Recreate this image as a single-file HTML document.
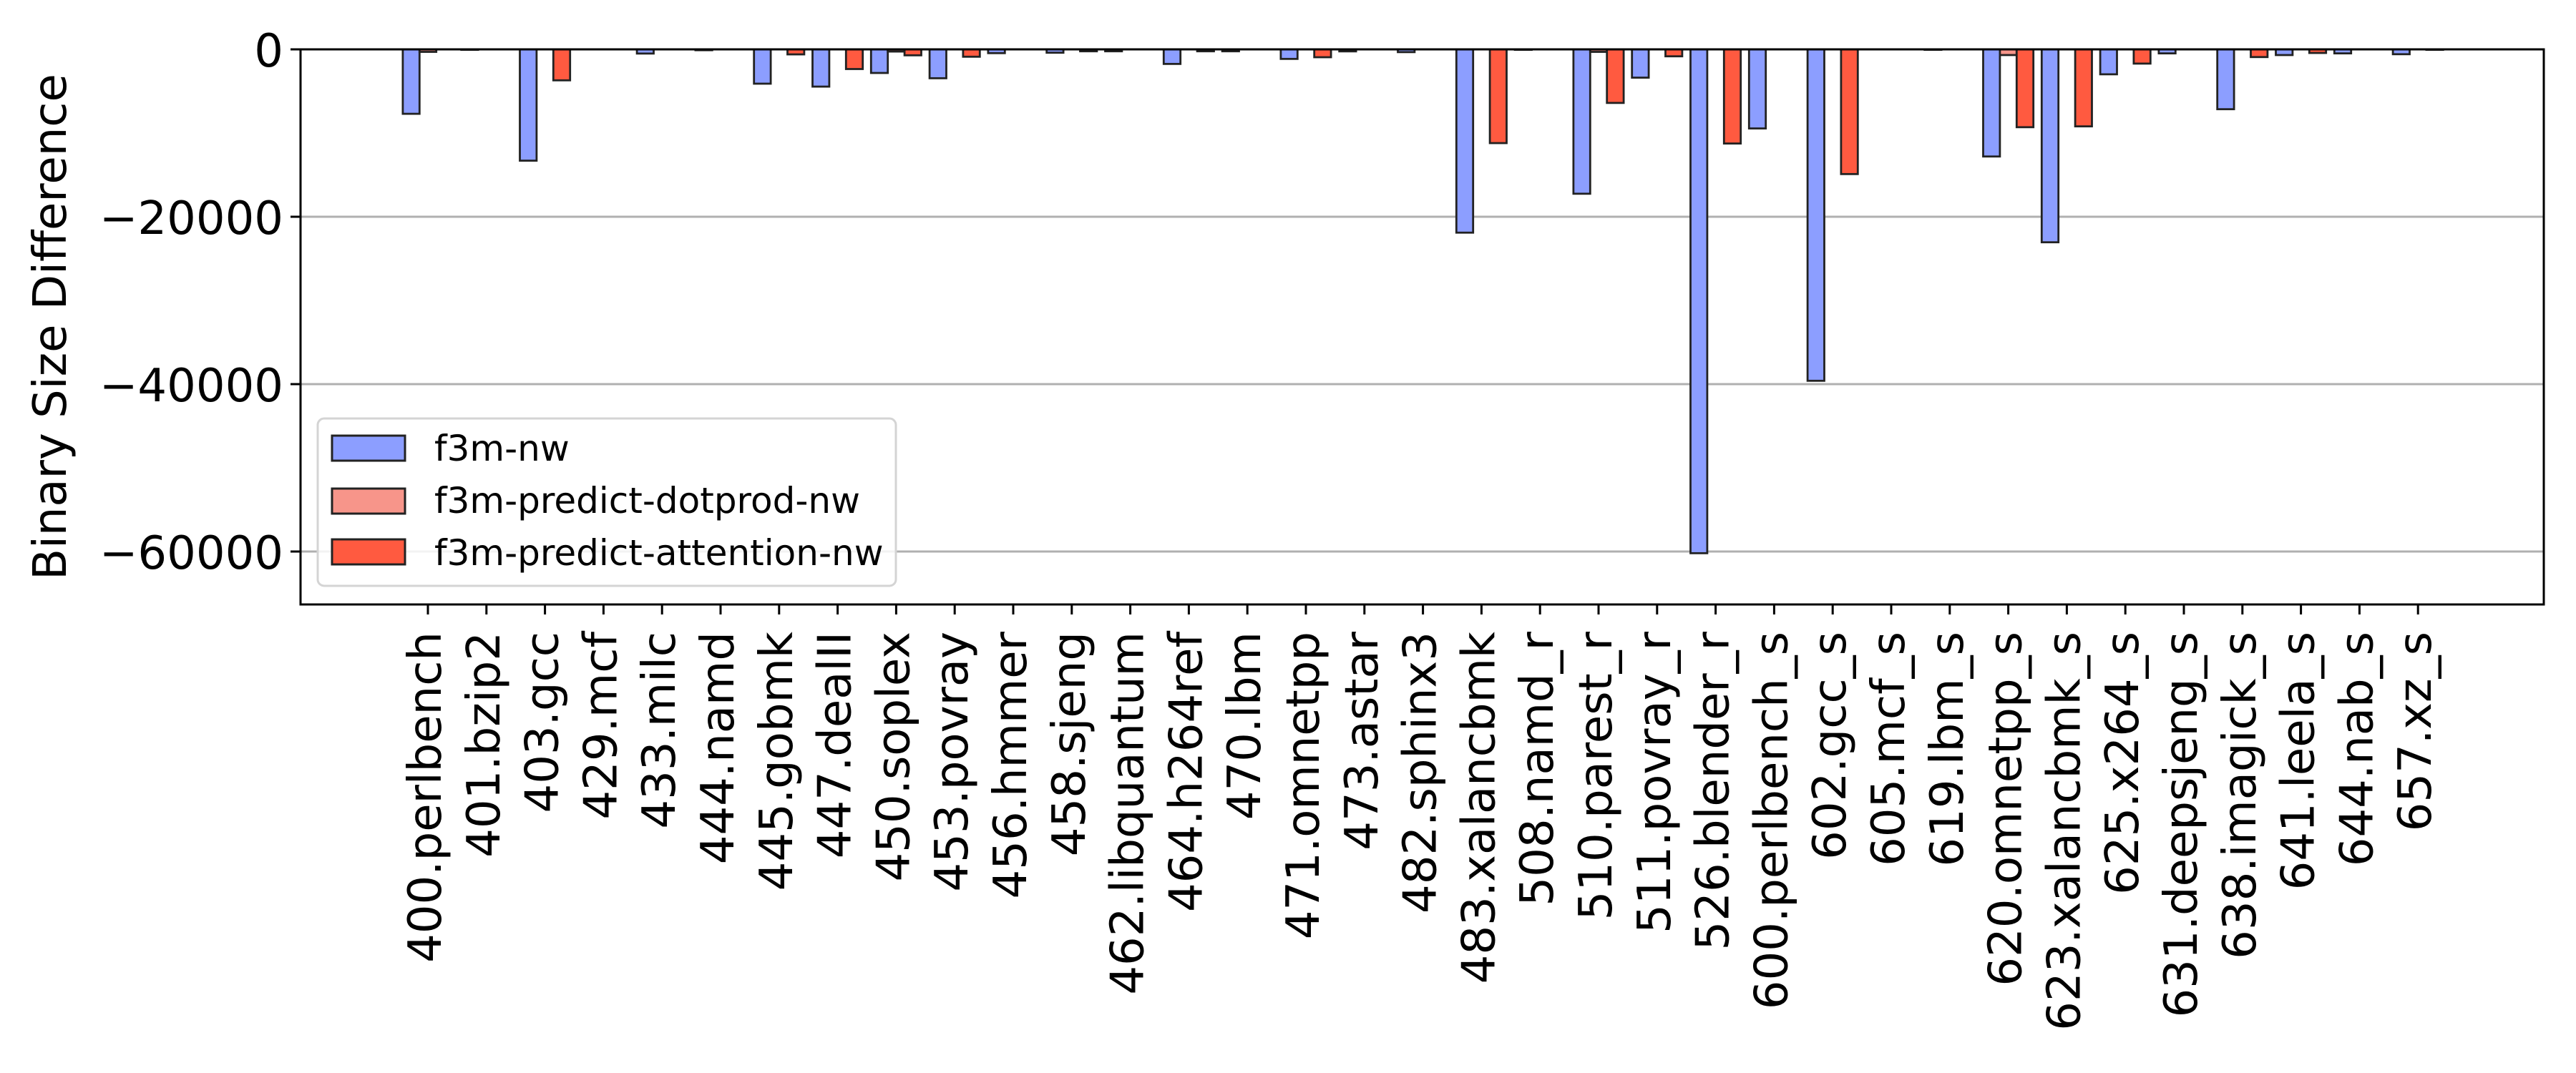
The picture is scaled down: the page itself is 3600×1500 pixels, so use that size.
<!DOCTYPE html>
<html><head><meta charset="utf-8"><style>
html,body{margin:0;padding:0;background:#fff;}
svg{display:block;font-family:"DejaVu Sans","Liberation Sans",sans-serif;}
</style></head><body>
<svg id="chart" width="3600" height="1500" viewBox="0 0 3600 1500" xmlns="http://www.w3.org/2000/svg">
<rect width="3600" height="1500" fill="#fff"/>
<g id="grid"></g>
<g id="bars"></g>
<g id="axes"></g>
<g id="legend"></g>
</svg>
<script>
const categories = ["400.perlbench","401.bzip2","403.gcc","429.mcf","433.milc","444.namd","445.gobmk","447.dealII","450.soplex","453.povray","456.hmmer","458.sjeng","462.libquantum","464.h264ref","470.lbm","471.omnetpp","473.astar","482.sphinx3","483.xalancbmk","508.namd_r","510.parest_r","511.povray_r","526.blender_r","600.perlbench_s","602.gcc_s","605.mcf_s","619.lbm_s","620.omnetpp_s","623.xalancbmk_s","625.x264_s","631.deepsjeng_s","638.imagick_s","641.leela_s","644.nab_s","657.xz_s"];
const f3mNw = [-7700,-50,-13300,0,-500,-100,-4100,-4450,-2820,-3450,-450,-400,-230,-1740,-230,-1140,-240,-330,-21900,-50,-17250,-3380,-60200,-9450,-39600,0,-50,-12800,-23050,-2980,-480,-7150,-680,-480,-580];
const f3mDotprod = [-300,0,0,0,0,0,0,0,-260,0,0,0,0,0,0,0,0,0,0,0,-300,0,0,0,0,0,0,-680,0,0,0,0,0,0,0];
const f3mAttention = [0,0,-3700,0,0,0,-600,-2350,-710,-880,0,-230,0,-230,0,-940,0,0,-11200,0,-6400,-830,-11250,0,-14900,0,0,-9300,-9200,-1700,0,-920,-430,0,-50];
const yTicks = [0,-20000,-40000,-60000];
const yTickLabels = ["0","\u221220000","\u221240000","\u221260000"];
const seriesNames = ["f3m-nw","f3m-predict-dotprod-nw","f3m-predict-attention-nw"];
const seriesColors = ["#8c9eff","#f7958a","#ff5a40"];

const NS="http://www.w3.org/2000/svg";
const L=420,R=3555,T=69,B=845;
const yMax=0,yMin=-66325;
function yScale(v){return T+(yMax-v)/(yMax-yMin)*(B-T);}
function xScale(i){return 598+i*81.8;}
const BW=23.4;
function mk(tag,attrs,parent){const e=document.createElementNS(NS,tag);for(const k in attrs)e.setAttribute(k,attrs[k]);parent.appendChild(e);return e;}

const grid=document.getElementById('grid');
yTicks.forEach((t,i)=>{
  if(t===0)return;
  const l=mk('line',{x1:L,x2:R,y1:yScale(t),y2:yScale(t),stroke:'#b0b0b0','stroke-width':3},grid);
  
  
});

const bars=document.getElementById('bars');
const series=[f3mNw,f3mDotprod,f3mAttention];
series.forEach((arr,s)=>{
  arr.forEach((v,i)=>{
    const cx=xScale(i)+(s-1)*BW;
    const y0=yScale(0),y1=yScale(v);
    const r=mk('rect',{x:cx-BW/2,y:Math.min(y0,y1),width:BW,height:Math.abs(y1-y0),fill:seriesColors[s],stroke:'#222','stroke-width':2.8},bars);
    
    
  });
});

const axes=document.getElementById('axes');
const frame=mk('rect',{x:L,y:T,width:R-L,height:B-T,fill:'none',stroke:'#000','stroke-width':3},axes);


yTicks.forEach((t,i)=>{
  const y=yScale(t);
  mk('line',{x1:L-14,x2:L,y1:y,y2:y,stroke:'#000','stroke-width':3},axes);
  const tx=mk('text',{x:396,y:y+24,'font-size':64,'text-anchor':'end',fill:'#000'},axes);
  tx.textContent=yTickLabels[i];
  
  
});
categories.forEach((c,i)=>{
  const x=xScale(i);
  mk('line',{x1:x,x2:x,y1:B,y2:B+14,stroke:'#000','stroke-width':3},axes);
  const tx=mk('text',{transform:`translate(${x+18},883) rotate(-90)`,'font-size':64,'text-anchor':'end',fill:'#000'},axes);
  tx.textContent=c;
  
  
});
const yt=mk('text',{transform:`translate(92,${(T+B)/2}) rotate(-90)`,'font-size':64,'text-anchor':'middle',fill:'#000'},axes);
yt.textContent='Binary Size Difference';



const lg=document.getElementById('legend');
const box=mk('rect',{x:444,y:585,width:808,height:234,rx:9,fill:'#fff','fill-opacity':0.85,stroke:'#d4d4d4','stroke-width':3},lg);


const rowsY=[608,682,753];
const baseY=[644,717,790];
seriesNames.forEach((n,s)=>{
  const p=mk('rect',{x:464,y:rowsY[s]+1,width:102,height:35,fill:seriesColors[s],stroke:'#222','stroke-width':3},lg);
  
  
  const t=mk('text',{x:607,y:baseY[s],'font-size':50,fill:'#000'},lg);
  t.textContent=n;
  
  
});
</script>
</body></html>
